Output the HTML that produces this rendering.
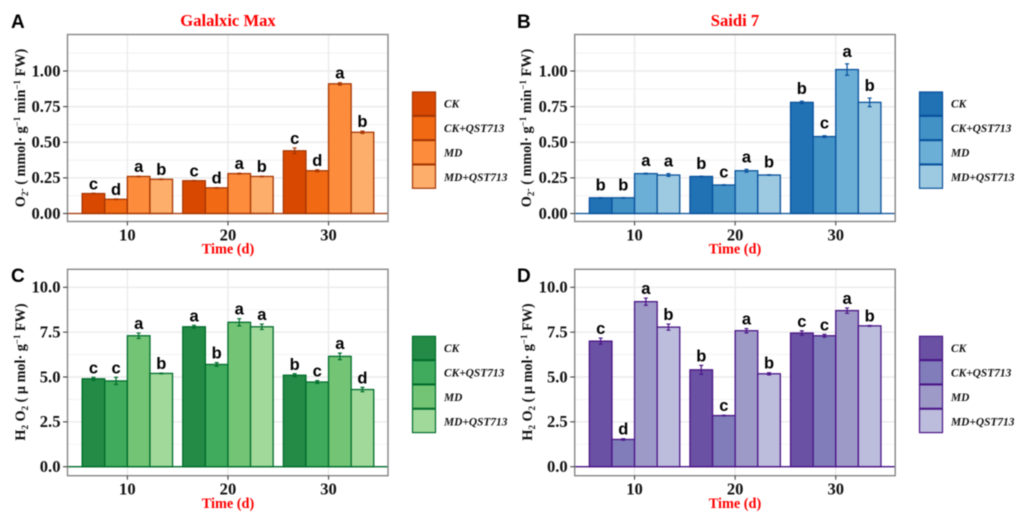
<!DOCTYPE html>
<html lang="en">
<head>
<meta charset="utf-8">
<title>O2- and H2O2 content in Galalxic Max and Saidi 7</title>
<style>
html,body{margin:0;padding:0;background:#fff;width:1024px;height:517px;overflow:hidden}
svg{display:block;filter:blur(0.45px)}
.serif{font-family:"Liberation Serif",serif;font-weight:bold}
.plabel{font-family:"Liberation Sans",sans-serif;font-weight:bold;font-size:19px;fill:#000}
.title{font-size:16.6px;fill:#f00;text-anchor:middle}
.xtitle{font-size:14.3px;fill:#f00;text-anchor:middle}
.ytitle{font-size:14.2px;fill:#111;text-anchor:middle}
.leg{font-size:11.4px;font-style:italic;fill:#111}
</style>
</head>
<body>
<svg id="figure" xmlns="http://www.w3.org/2000/svg" width="1024" height="517" viewBox="0 0 1024 517">
  <rect width="1024" height="517" fill="#fff"/>
  <g id="panel-a"></g>
  <g id="panel-b"></g>
  <g id="panel-c"></g>
  <g id="panel-d"></g>

  <text class="plabel" x="11" y="28">A</text>
  <text class="plabel" x="517" y="28">B</text>
  <text class="plabel" x="11" y="282">C</text>
  <text class="plabel" x="517" y="282">D</text>

  <text class="serif title" x="228" y="26">Galalxic Max</text>
  <text class="serif title" x="735" y="26">Saidi 7</text>

  <text class="serif xtitle" x="228" y="253.5">Time (d)</text>
  <text class="serif xtitle" x="735" y="253.5">Time (d)</text>
  <text class="serif xtitle" x="228" y="508">Time (d)</text>
  <text class="serif xtitle" x="735" y="508">Time (d)</text>

  <text class="serif ytitle" transform="translate(25,128) rotate(-90)">O<tspan font-size="9" dy="3">2</tspan><tspan dy="-3" font-size="10">-</tspan> ( mmol· g<tspan font-size="9" dy="-5">−1</tspan><tspan dy="5"> min</tspan><tspan font-size="9" dy="-5">−1</tspan><tspan dy="5"> FW)</tspan></text>
  <text class="serif ytitle" transform="translate(531,128) rotate(-90)">O<tspan font-size="9" dy="3">2</tspan><tspan dy="-3" font-size="10">-</tspan> ( mmol· g<tspan font-size="9" dy="-5">−1</tspan><tspan dy="5"> min</tspan><tspan font-size="9" dy="-5">−1</tspan><tspan dy="5"> FW)</tspan></text>
  <text class="serif ytitle" transform="translate(25,372) rotate(-90)">H<tspan font-size="9" dy="3">2</tspan><tspan dy="-3"> O</tspan><tspan font-size="9" dy="3">2</tspan><tspan dy="-3"> ( µ mol· g</tspan><tspan font-size="9" dy="-5">−1</tspan><tspan dy="5"> FW)</tspan></text>
  <text class="serif ytitle" transform="translate(532,372) rotate(-90)">H<tspan font-size="9" dy="3">2</tspan><tspan dy="-3"> O</tspan><tspan font-size="9" dy="3">2</tspan><tspan dy="-3"> ( µ mol· g</tspan><tspan font-size="9" dy="-5">−1</tspan><tspan dy="5"> FW)</tspan></text>

  <g stroke="#a63603" stroke-width="1.2">
    <rect x="412.5" y="92" width="23" height="23.4" fill="#d94801"/>
    <rect x="412.5" y="116.3" width="23" height="23.4" fill="#f16913"/>
    <rect x="412.5" y="140.6" width="23" height="23.4" fill="#fd8d3c"/>
    <rect x="412.5" y="164.9" width="23" height="23.4" fill="#fdae6b"/>
  </g>
  <g class="serif leg">
    <text x="444" y="107.5">CK</text>
    <text x="444" y="132">CK+QST713</text>
    <text x="444" y="156.5">MD</text>
    <text x="444" y="181">MD+QST713</text>
  </g>

  <g stroke="#08519c" stroke-width="1.2">
    <rect x="919.5" y="92" width="23" height="23.4" fill="#2171b5"/>
    <rect x="919.5" y="116.3" width="23" height="23.4" fill="#4292c6"/>
    <rect x="919.5" y="140.6" width="23" height="23.4" fill="#6baed6"/>
    <rect x="919.5" y="164.9" width="23" height="23.4" fill="#9ecae1"/>
  </g>
  <g class="serif leg">
    <text x="951" y="107.5">CK</text>
    <text x="951" y="132">CK+QST713</text>
    <text x="951" y="156.5">MD</text>
    <text x="951" y="181">MD+QST713</text>
  </g>

  <g stroke="#006d2c" stroke-width="1.2">
    <rect x="412.5" y="336.3" width="23" height="23.4" fill="#238b45"/>
    <rect x="412.5" y="360.6" width="23" height="23.4" fill="#41ab5d"/>
    <rect x="412.5" y="384.9" width="23" height="23.4" fill="#74c476"/>
    <rect x="412.5" y="409.2" width="23" height="23.4" fill="#a1d99b"/>
  </g>
  <g class="serif leg">
    <text x="444" y="352">CK</text>
    <text x="444" y="376.5">CK+QST713</text>
    <text x="444" y="401">MD</text>
    <text x="444" y="425.5">MD+QST713</text>
  </g>

  <g stroke="#4a1486" stroke-width="1.2">
    <rect x="919.5" y="336.3" width="23" height="23.4" fill="#6a51a3"/>
    <rect x="919.5" y="360.6" width="23" height="23.4" fill="#807dba"/>
    <rect x="919.5" y="384.9" width="23" height="23.4" fill="#9e9ac8"/>
    <rect x="919.5" y="409.2" width="23" height="23.4" fill="#bcbddc"/>
  </g>
  <g class="serif leg">
    <text x="951" y="352">CK</text>
    <text x="951" y="376.5">CK+QST713</text>
    <text x="951" y="401">MD</text>
    <text x="951" y="425.5">MD+QST713</text>
  </g>
</svg>

<script>
// Shared categories and tick labels
const days = [10, 20, 30];
const treatments = ["CK", "CK+QST713", "MD", "MD+QST713"];
const yTicksO2 = ["0.00", "0.25", "0.50", "0.75", "1.00"];
const yTicksH2O2 = ["0.0", "2.5", "5.0", "7.5", "10.0"];

// Panel A: O2- Galalxic Max (one row per treatment, one value per day)
const aCK = [0.14, 0.23, 0.44];
const aCKQ = [0.10, 0.18, 0.30];
const aMD = [0.26, 0.28, 0.91];
const aMDQ = [0.24, 0.26, 0.57];
const aErrCK = [0.002, 0.002, 0.02];
const aErrCKQ = [0.002, 0.002, 0.006];
const aErrMD = [0.002, 0.003, 0.008];
const aErrMDQ = [0.002, 0.002, 0.008];
const aLetters = [["c","c","c"],["d","d","d"],["a","a","a"],["b","b","b"]];

// Panel B: O2- Saidi 7
const bCK = [0.11, 0.26, 0.78];
const bCKQ = [0.11, 0.20, 0.54];
const bMD = [0.28, 0.30, 1.01];
const bMDQ = [0.27, 0.27, 0.78];
const bErrCK = [0.002, 0.002, 0.008];
const bErrCKQ = [0.002, 0.002, 0.006];
const bErrMD = [0.003, 0.01, 0.04];
const bErrMDQ = [0.01, 0.002, 0.03];
const bLetters = [["b","b","b"],["b","c","c"],["a","a","a"],["a","b","b"]];

// Panel C: H2O2 Galalxic Max
const cCK = [4.9, 7.8, 5.1];
const cCKQ = [4.78, 5.7, 4.72];
const cMD = [7.3, 8.05, 6.15];
const cMDQ = [5.2, 7.8, 4.3];
const cErrCK = [0.08, 0.08, 0.08];
const cErrCKQ = [0.2, 0.1, 0.08];
const cErrMD = [0.15, 0.2, 0.18];
const cErrMDQ = [0.02, 0.15, 0.12];
const cLetters = [["c","a","b"],["c","b","c"],["a","a","a"],["b","a","d"]];

// Panel D: H2O2 Saidi 7
const dCK = [7.0, 5.4, 7.45];
const dCKQ = [1.52, 2.85, 7.3];
const dMD = [9.2, 7.58, 8.7];
const dMDQ = [7.78, 5.18, 7.85];
const dErrCK = [0.17, 0.25, 0.12];
const dErrCKQ = [0.04, 0.02, 0.08];
const dErrMD = [0.2, 0.12, 0.15];
const dErrMDQ = [0.17, 0.06, 0.02];
const dLetters = [["c","b","c"],["d","c","c"],["a","a","a"],["b","b","b"]];

const NS = "http://www.w3.org/2000/svg";

function make(parent, tag, attrs, text) {
  const el = document.createElementNS(NS, tag);
  for (const k in attrs) el.setAttribute(k, attrs[k]);
  if (text !== undefined) el.textContent = text;
  parent.appendChild(el);
  return el;
}

function drawPanel(cfg) {
  const root = document.getElementById(cfg.id);
  const L = cfg.left, R = cfg.left + 320.5, T = cfg.top, B = cfg.bottom;
  const xScale = d => L + (d - 4.05) * 10.06;
  const yScale = v => cfg.zeroY - v * cfg.unit;
  const barW = 22.6;

  // minor horizontal gridlines, midway between ticks
  const tickVals = cfg.ticks.map(Number);
  const step = tickVals[1] - tickVals[0];
  for (let i = 0; i <= tickVals.length; i++) {
    const v = (i + 0.5) * step - step;
    const y = yScale(v + step);
    if (y <= T || y >= B) continue;
    const g = make(root, "line", {x1: L, x2: R, y1: y, y2: y, stroke: "#f0f0f0", "stroke-width": 0.8});
    
    
  }
  // major gridlines
  tickVals.forEach(v => {
    const y = yScale(v);
    const g = make(root, "line", {x1: L, x2: R, y1: y, y2: y, stroke: "#ebebeb", "stroke-width": 1.4});
    
    
  });
  days.forEach(d => {
    const x = xScale(d);
    const g = make(root, "line", {x1: x, x2: x, y1: T, y2: B, stroke: "#ebebeb", "stroke-width": 1.4});
    
    
  });

  // bars
  cfg.series.forEach((vals, s) => {
    vals.forEach((v, i) => {
      const x = xScale(days[i]) + (s - 2) * barW;
      const bar = make(root, "rect", {
        x: x, y: yScale(v), width: barW, height: yScale(0) - yScale(v),
        fill: cfg.colors[s], stroke: cfg.stroke, "stroke-width": 1.3
      });
      
      
    });
  });

  // error bars and significance letters
  cfg.series.forEach((vals, s) => {
    vals.forEach((v, i) => {
      const cx = xScale(days[i]) + (s - 1.5) * barW;
      const e = cfg.errors[s][i];
      const top = yScale(v + e), bot = yScale(v - e);
      const eb = make(root, "path", {
        d: "M" + (cx - 2) + " " + top + "H" + (cx + 2) + "M" + cx + " " + top + "V" + bot + "M" + (cx - 2) + " " + bot + "H" + (cx + 2),
        fill: "none", stroke: cfg.stroke, "stroke-width": 1.2
      });
      
      
      const t = make(root, "text", {
        x: cx, y: top - cfg.letterGap, "text-anchor": "middle",
        "font-family": '"Liberation Sans", sans-serif', "font-weight": "bold", "font-size": 16.5, fill: "#000"
      }, cfg.letters[s][i]);
      
      
    });
  });

  // zero line
  const zero = make(root, "line", {x1: L, x2: R, y1: yScale(0), y2: yScale(0), stroke: cfg.stroke, "stroke-width": 1.3});
  
  

  // panel border
  const border = make(root, "rect", {x: L, y: T, width: R - L, height: B - T, fill: "none", stroke: "#858585", "stroke-width": 1.4});
  
  

  // y ticks
  cfg.ticks.forEach(lbl => {
    const y = yScale(Number(lbl));
    const tk = make(root, "line", {x1: L - 4.5, x2: L, y1: y, y2: y, stroke: "#333", "stroke-width": 1});
    
    
    const t = make(root, "text", {
      x: L - 7, y: y + 5.3, "text-anchor": "end",
      "font-family": '"Liberation Serif", serif', "font-weight": "bold", "font-size": 16.6, fill: "#111"
    }, lbl);
    
    
  });

  // x ticks
  days.forEach(d => {
    const x = xScale(d);
    const tk = make(root, "line", {x1: x, x2: x, y1: B, y2: B + 4, stroke: "#333", "stroke-width": 1});
    
    
    const t = make(root, "text", {
      x: x, y: B + 19, "text-anchor": "middle",
      "font-family": '"Liberation Serif", serif', "font-weight": "bold", "font-size": 16.6, fill: "#111"
    }, String(d));
    
    
  });
}

drawPanel({
  id: "panel-a", left: 67.5, top: 34.5, bottom: 221.5, zeroY: 213.5, unit: 142.5, ticks: yTicksO2, letterGap: 4,
  series: [aCK, aCKQ, aMD, aMDQ], errors: [aErrCK, aErrCKQ, aErrMD, aErrMDQ], letters: aLetters,
  colors: ["#d94801", "#f16913", "#fd8d3c", "#fdae6b"], stroke: "#a63603"
});
drawPanel({
  id: "panel-b", left: 574.7, top: 34.5, bottom: 221.5, zeroY: 213.5, unit: 142.5, ticks: yTicksO2, letterGap: 7,
  series: [bCK, bCKQ, bMD, bMDQ], errors: [bErrCK, bErrCKQ, bErrMD, bErrMDQ], letters: bLetters,
  colors: ["#2171b5", "#4292c6", "#6baed6", "#9ecae1"], stroke: "#08519c"
});
drawPanel({
  id: "panel-c", left: 67.5, top: 269.3, bottom: 475.7, zeroY: 466.7, unit: 17.94, ticks: yTicksH2O2, letterGap: 4,
  series: [cCK, cCKQ, cMD, cMDQ], errors: [cErrCK, cErrCKQ, cErrMD, cErrMDQ], letters: cLetters,
  colors: ["#238b45", "#41ab5d", "#74c476", "#a1d99b"], stroke: "#006d2c"
});
drawPanel({
  id: "panel-d", left: 574.7, top: 269.3, bottom: 475.7, zeroY: 466.7, unit: 17.94, ticks: yTicksH2O2, letterGap: 4,
  series: [dCK, dCKQ, dMD, dMDQ], errors: [dErrCK, dErrCKQ, dErrMD, dErrMDQ], letters: dLetters,
  colors: ["#6a51a3", "#807dba", "#9e9ac8", "#bcbddc"], stroke: "#4a1486"
});
</script>
</body>
</html>
